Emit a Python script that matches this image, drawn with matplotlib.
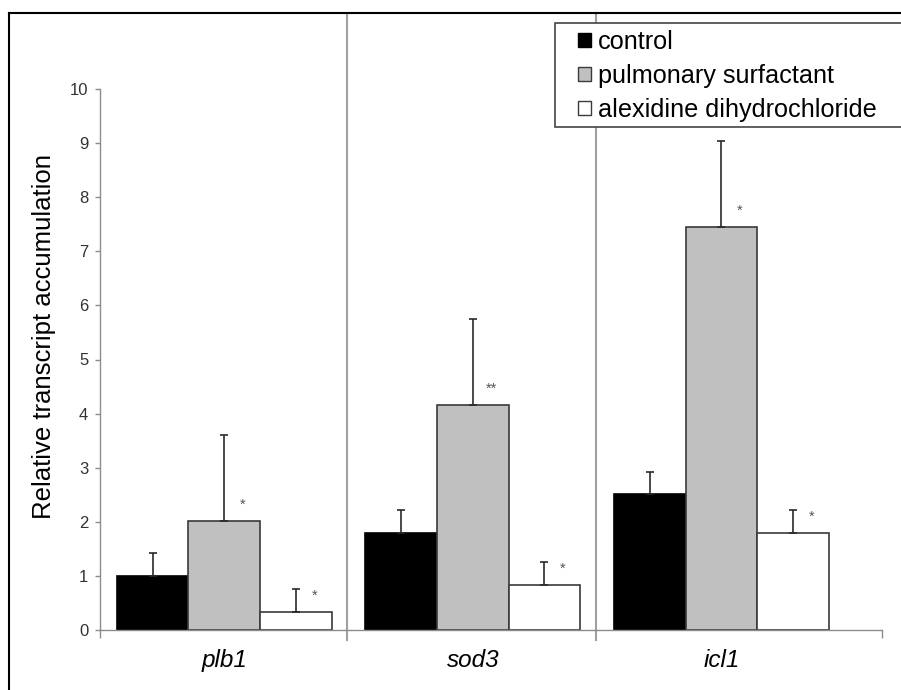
import numpy as np
import matplotlib
matplotlib.use("Agg")
import matplotlib.pyplot as plt
from matplotlib.patches import Patch, Rectangle
from matplotlib.lines import Line2D

# --- data ---
genes = ["plb1", "sod3", "icl1"]
treatments = ["control", "pulmonary surfactant", "alexidine dihydrochloride"]
control = [1.00, 1.79, 2.51]
control_err = [0.42, 0.43, 0.41]
surfactant = [2.02, 4.16, 7.45]
surfactant_err = [1.58, 1.58, 1.59]
alexidine = [0.33, 0.83, 1.80]
alexidine_err = [0.43, 0.42, 0.41]
surfactant_sig = ["*", "**", "*"]
alexidine_sig = ["*", "*", "*"]

# --- style ---
plt.rcParams['font.family'] = ['Liberation Sans', 'DejaVu Sans']
W, H = 901, 690
fills = ["black", "#c0c0c0", "white"]
edges = ["black", "#3a3a3a", "#3a3a3a"]
axis_grey = "#8c8c8c"
BAR_W = 0.288

fig = plt.figure(figsize=(W / 100, H / 100), dpi=100)
ax = fig.add_axes([100 / W, 1 - 630 / H, (882 - 100) / W, (630 - 89) / H])

x = np.arange(len(genes))
series = [(control, control_err), (surfactant, surfactant_err), (alexidine, alexidine_err)]
for i, (vals, errs) in enumerate(series):
    pos = x + (i - 1) * BAR_W
    ax.bar(pos, vals, BAR_W, color=fills[i], edgecolor=edges[i], linewidth=1.2, zorder=2)
    ax.errorbar(pos, vals, yerr=[np.zeros(len(errs)), errs], fmt="none",
                ecolor="#2a2a2a", elinewidth=1.2, capsize=3, capthick=1.2, zorder=3)

# significance marks
for i, (vals, sig) in enumerate([(surfactant, surfactant_sig), (alexidine, alexidine_sig)]):
    pos = x + i * BAR_W
    for xp, v, s in zip(pos, vals, sig):
        ax.text(xp + 0.075, v + 0.3, s, ha="center", va="center",
                fontsize=10.5, color="#555555")

ax.set_xlim(-0.5, 2.646)
ax.set_ylim(0, 10)

ax.set_yticks(range(0, 11))
ax.tick_params(axis="y", direction="out", length=3.5, width=1, color=axis_grey,
               labelsize=12, labelcolor="#333333", pad=5)
ax.set_xticks([-0.5, 2.646])
ax.set_xticklabels([])
ax.tick_params(axis="x", which="major", direction="out", length=6, width=1, color=axis_grey)
ax.set_xticks(x, minor=True)
ax.set_xticklabels(genes, minor=True, fontsize=17.5, style="italic")
ax.tick_params(axis="x", which="minor", length=0, pad=14)

for side in ["top", "right"]:
    ax.spines[side].set_visible(False)
for side in ["left", "bottom"]:
    ax.spines[side].set_color(axis_grey)
    ax.spines[side].set_linewidth(1)

ax.set_ylabel("Relative transcript accumulation", fontsize=18.5)
ax.yaxis.set_label_coords(-0.056, 0.5416)

# category separators running up to the outer frame
for sx in [0.492, 1.494]:
    ax.plot([sx, sx], [-0.0185, 1.1405], transform=ax.get_xaxis_transform(),
            color="#a0a0a0", lw=1.5, clip_on=False, zorder=1)

# outer frame (left and top edges visible)
fig.add_artist(Line2D([9 / W, 9 / W], [0, 1 - 13 / H], color="black", lw=1.5))
fig.add_artist(Line2D([9 / W, 1], [1 - 13 / H, 1 - 13 / H], color="black", lw=1.5))

# legend box, running off the right edge
fig.add_artist(Rectangle((555 / W, 1 - 127 / H), 400 / W, 104 / H,
                         facecolor="white", edgecolor="#444444", lw=1.2, zorder=3))
handles = [Patch(facecolor=fills[i], edgecolor=edges[i], linewidth=1) for i in range(3)]
leg = fig.legend(handles, treatments, loc="upper left",
                 bbox_to_anchor=(578 / W, 1 - 30 / H), fontsize=18.2,
                 frameon=False, handlelength=0.5, handleheight=0.5,
                 handletextpad=0.3, labelspacing=0.4, borderpad=0, borderaxespad=0)
leg.set_zorder(4)

fig.savefig("out.png", dpi=100)
